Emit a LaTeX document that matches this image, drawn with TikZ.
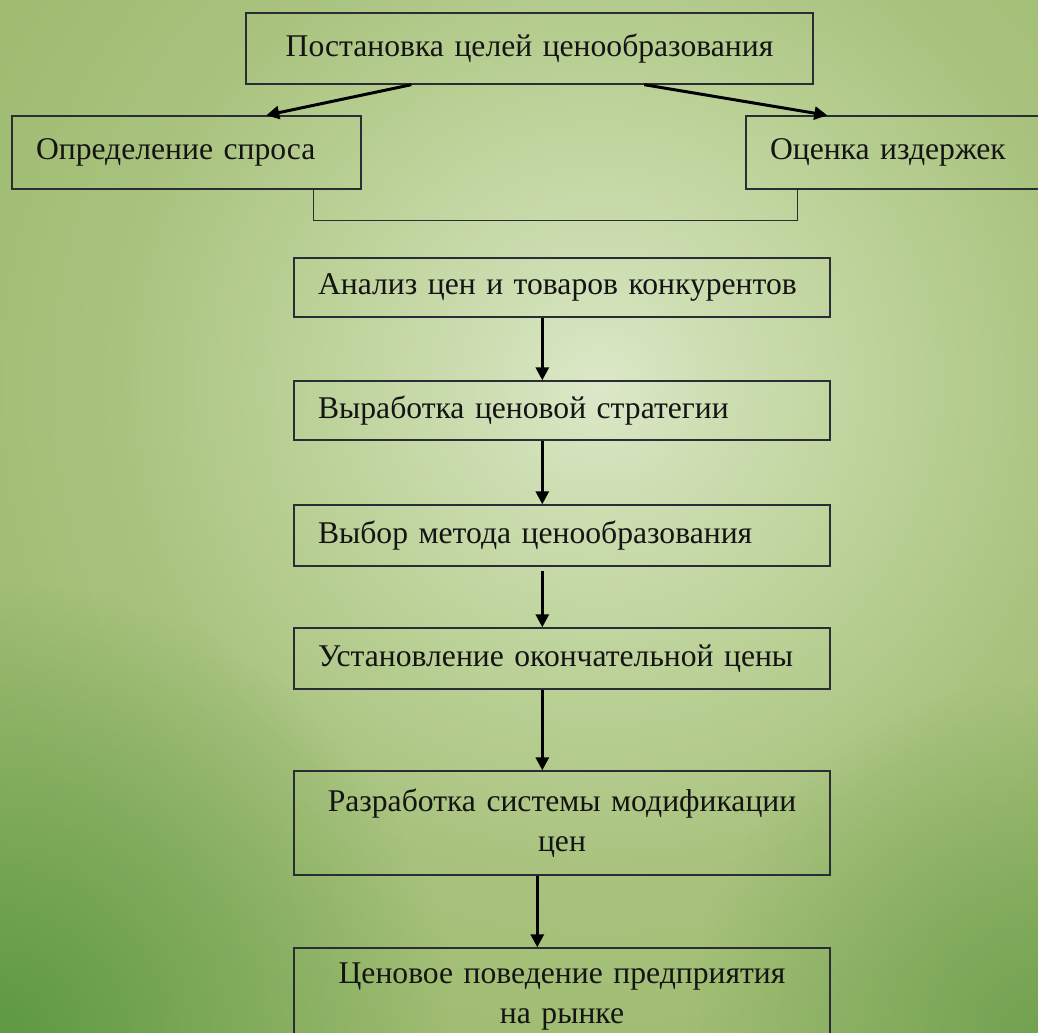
\documentclass[tikz,border=0pt]{standalone}
\usepackage{fontspec}
\setmainfont{Liberation Serif}
\usetikzlibrary{arrows.meta,calc,fadings}
\definecolor{g0}{HTML}{DCE8C8}
\definecolor{g1}{HTML}{CDDEB2}
\definecolor{g2}{HTML}{BBD197}
\definecolor{g3}{HTML}{A9C37F}
\definecolor{g4}{HTML}{A1BD73}
\definecolor{g5}{HTML}{98B769}
\definecolor{gdarkbl}{HTML}{5E9944}
\definecolor{gdarkbr}{HTML}{72A251}
\definecolor{boxc}{HTML}{2A2D35}
\definecolor{txt}{HTML}{141414}
\pgfdeclareradialshading{bgshade}{\pgfpointorigin}{color(0bp)=(g0); color(3.33bp)=(g1); color(8.33bp)=(g2); color(13.33bp)=(g3); color(18.06bp)=(g4); color(25bp)=(g5); color(50bp)=(g5)}
\tikzfading[name=cornerfade, inner color=transparent!0, outer color=transparent!100]
\begin{document}
\begin{tikzpicture}[x=0.02cm,y=-0.02cm,
  boxbase/.style={draw=boxc, line width=0.8pt, inner xsep=0.48cm, inner ysep=0pt, text=txt, font=\fontsize{18}{23}\selectfont},
  boxl/.style={boxbase, align=left},
  boxc/.style={boxbase, align=center},
  arr/.style={draw=black, line width=1.7pt, -{Triangle[length=0.26cm,width=0.26cm]}},
  conn/.style={draw=boxc, line width=0.8pt}]
\useasboundingbox (0,0) rectangle (1038,1033);
\begin{scope}
  \clip (0,0) rectangle (1038,1033);
  \shade[shading=bgshade] (600,385) circle[radius=18cm];
  \fill[gdarkbl, path fading=cornerfade] (0,1033) circle[radius=9cm];
  \fill[gdarkbr, path fading=cornerfade] (1038,1033) circle[radius=7cm];
\end{scope}
\begin{scope}
  \clip (0,0) rectangle (1038,1033);
  \node[boxc, minimum width=11.34cm, minimum height=1.42cm, text width=10.38cm] (top) at (529.5,48.5) {Постановка целей ценообразования};
  \node[boxl, minimum width=6.98cm, minimum height=1.46cm, text width=6.02cm] (L) at (186.5,152.5) {Определение спроса};
  \node[boxl, minimum width=5.98cm, minimum height=1.46cm, text width=5.02cm] (R) at (895.5,152.5) {Оценка издержек};
  \node[boxl, minimum width=10.72cm, minimum height=1.18cm, text width=9.76cm] (b1) at (562,287.5) {Анализ цен и товаров конкурентов};
  \node[boxl, minimum width=10.72cm, minimum height=1.18cm, text width=9.76cm] (b2) at (562,410.5) {Выработка ценовой стратегии};
  \node[boxl, minimum width=10.72cm, minimum height=1.22cm, text width=9.76cm] (b3) at (562,535.5) {Выбор метода ценообразования};
  \node[boxl, minimum width=10.72cm, minimum height=1.22cm, text width=9.76cm] (b4) at (562,658.5) {Установление окончательной цены};
  \node[boxc, minimum width=10.72cm, minimum height=2.08cm, text width=9.76cm] (b5) at (562,823) {Разработка системы модификации\\цен};
  \node[boxc, minimum width=10.72cm, minimum height=1.94cm, text width=9.76cm] (b6) at (562,996.5) {Ценовое поведение предприятия\\на рынке};
  \draw[arr] ([xshift=3.32cm]top.south west) -- ([xshift=5.1cm]L.north west);
  \draw[arr] ([xshift=7.98cm]top.south west) -- ([xshift=1.64cm]R.north west);
  \draw[conn] ([xshift=6.04cm]L.south west) -- ++(0,31) -| ([xshift=1.04cm]R.south west);
  \draw[arr] ([xshift=4.98cm]b1.south west) -- ([xshift=4.98cm]b2.north west);
  \draw[arr] ([xshift=4.98cm]b2.south west) -- ([xshift=4.98cm]b3.north west);
  \draw[arr] ([xshift=4.98cm,yshift=-0.08cm]b3.south west) -- ([xshift=4.98cm]b4.north west);
  \draw[arr] ([xshift=4.98cm]b4.south west) -- ([xshift=4.98cm]b5.north west);
  \draw[arr] ([xshift=4.88cm]b5.south west) -- ([xshift=4.88cm]b6.north west);
\end{scope}
\end{tikzpicture}
\end{document}
